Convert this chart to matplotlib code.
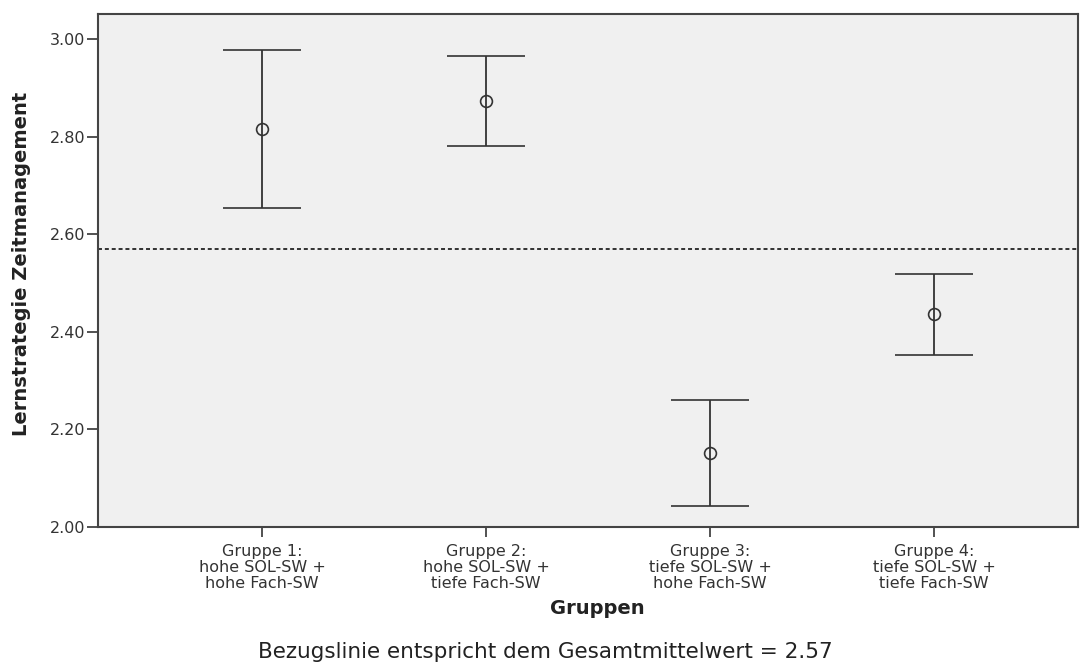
import matplotlib
matplotlib.use("Agg")
import matplotlib.pyplot as plt
import numpy as np

# Group means with 95% confidence interval bounds
groups = [
    "Gruppe 1:\nhohe SOL-SW +\nhohe Fach-SW",
    "Gruppe 2:\nhohe SOL-SW +\ntiefe Fach-SW",
    "Gruppe 3:\ntiefe SOL-SW +\nhohe Fach-SW",
    "Gruppe 4:\ntiefe SOL-SW +\ntiefe Fach-SW",
]
means = [2.817, 2.874, 2.152, 2.437]
ci_low = [2.655, 2.782, 2.043, 2.353]
ci_high = [2.979, 2.966, 2.261, 2.519]
grand_mean = 2.57
yticks = [2.00, 2.20, 2.40, 2.60, 2.80, 3.00]

plt.rcParams["font.family"] = ["DejaVu Sans"]

W, H = 1090, 670
fig = plt.figure(figsize=(W / 100, H / 100), dpi=100)
ax = fig.add_axes([98 / W, 1 - 527 / H, (1078 - 98) / W, (527 - 14) / H])
ax.set_facecolor("#f0f0f0")

x = np.arange(1, len(groups) + 1)
m = np.array(means)
err = np.vstack([m - np.array(ci_low), np.array(ci_high) - m])
ax.errorbar(x, m, yerr=err, fmt="o", mfc="none", mec="#333333", ms=8.5, mew=1.2,
            ecolor="#333333", elinewidth=1.3, capsize=28, capthick=1.6, zorder=3)

ax.axhline(grand_mean, color="#222222", lw=1.3, ls=(0, (2.2, 1.6)), zorder=2)

ax.set_xlim(0.268, 4.643)
ax.set_ylim(2.0, 3.052)
ax.set_xticks(x)
ax.set_xticklabels(groups, fontsize=11.5, color="#333333", linespacing=1.08)
ax.set_yticks(yticks)
ax.set_yticklabels([f"{v:.2f}" for v in yticks], fontsize=11.5, color="#333333")
ax.tick_params(axis="both", width=1.2, color="#333333")
ax.tick_params(axis="y", length=8, pad=1)
ax.tick_params(axis="x", length=7, pad=5.5)

for s in ax.spines.values():
    s.set_color("#444444")
    s.set_linewidth(1.5)

fig.text(22 / W, 1 - 264 / H, "Lernstrategie Zeitmanagement", rotation=90,
         ha="center", va="center", fontsize=14, fontweight="bold", color="#222222")
fig.text(597 / W, 1 - 609 / H, "Gruppen", ha="center", va="center",
         fontsize=14, fontweight="bold", color="#222222")
fig.text(0.5, 1 - 652 / H, "Bezugslinie entspricht dem Gesamtmittelwert = 2.57",
         ha="center", va="center", fontsize=15.5, color="#222222")

fig.savefig("out.png", dpi=100, facecolor="white")
